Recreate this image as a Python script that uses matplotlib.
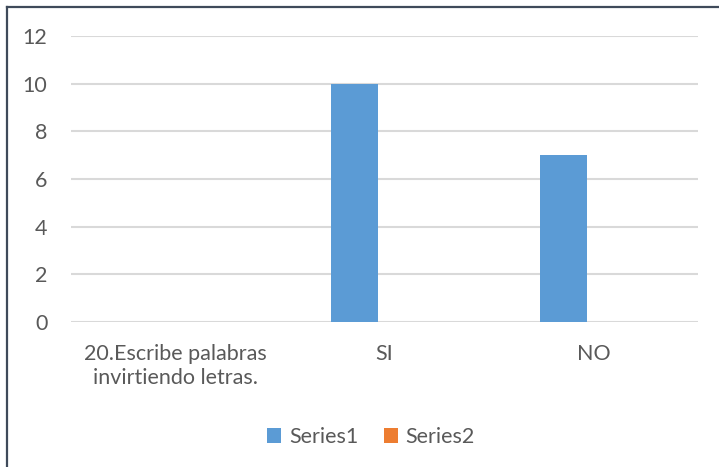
import matplotlib.pyplot as plt
import numpy as np
from matplotlib.lines import Line2D

categories = ["20.Escribe palabras\ninvirtiendo letras.", "SI", "NO"]
series1 = [0, 10, 7]
series2 = [0, 0, 0]
yticks = [0, 2, 4, 6, 8, 10, 12]

plt.rcParams['font.family'] = ['Lato', 'DejaVu Sans']
text_col = "#595959"

fig = plt.figure(figsize=(7.19, 4.67), dpi=100)
ax = fig.add_axes([71 / 719, 1 - 322 / 467, (698 - 71) / 719, (322 - 36) / 467])

x = np.arange(len(categories))
w = 0.225
ax.bar(x - 0.145, series1, width=w, color="#5b9bd5", label="Series1", zorder=3)
ax.bar(x + 0.08, series2, width=w, color="#ed7d31", label="Series2", zorder=3)

ax.set_xlim(-0.5, 2.5)
ax.set_ylim(0, 12)
ax.set_yticks(yticks)
ax.set_xticks(x)
ax.set_xticklabels(categories, fontsize=15.5, color=text_col, linespacing=1.25)
ax.tick_params(axis="y", labelsize=15.5, labelcolor=text_col, length=0, pad=17)
ax.tick_params(axis="x", length=0, pad=16)
ax.grid(axis="y", color="#d9d9d9", linewidth=1.5, zorder=0)
for s in ax.spines.values():
    s.set_visible(False)

ax.legend(loc="center", bbox_to_anchor=(371 / 719, 1 - 437 / 467), bbox_transform=fig.transFigure,
          ncol=2, frameon=False, fontsize=15.5, handlelength=0.65, handleheight=0.65,
          handletextpad=0.35, columnspacing=1.2, labelcolor=text_col)

# chart frame (left and top edges visible)
fig.add_artist(Line2D([7 / 719, 7 / 719], [0, 1 - 7 / 467], color="#3f4a5a", linewidth=1.6, transform=fig.transFigure))
fig.add_artist(Line2D([7 / 719, 1], [1 - 7 / 467, 1 - 7 / 467], color="#3f4a5a", linewidth=1.6, transform=fig.transFigure))

fig.savefig("out.png", dpi=100)
